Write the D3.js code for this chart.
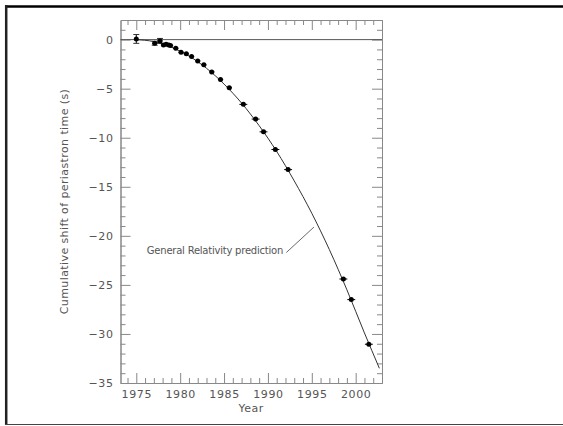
<!DOCTYPE html>
<html>
<head>
<meta charset="utf-8">
<script src="https://cdn.jsdelivr.net/npm/d3@7"></script>
<style>
  body { margin: 0; background: #fff; }
  text { font-family: "DejaVu Sans", sans-serif; fill: #555; }
</style>
</head>
<body>
<svg id="chart" width="563" height="426"></svg>
<script>
// measured points (year, cumulative shift in s)
let years  = [1975.0, 1977.1, 1977.7, 1978.1, 1978.4, 1978.7, 1978.9, 1979.5, 1980.1, 1980.7, 1981.3, 1982.0,
              1982.7, 1983.6, 1984.6, 1985.6, 1987.2, 1988.6, 1989.5, 1990.85, 1992.3, 1998.6, 1999.5, 2001.5];
let shifts = [0.07, -0.37, -0.13, -0.54, -0.48, -0.54, -0.61, -0.88, -1.29, -1.45, -1.73, -2.17,
              -2.57, -3.29, -4.07, -4.91, -6.6, -8.1, -9.4, -11.2, -13.25, -24.4, -26.5, -31.05];
let yErr   = [0.45, 0.2, 0.25, 0.12, 0.1, 0.1, 0.1, 0.1, 0.1, 0.1, 0.1, 0.1,
              0.1, 0.1, 0.1, 0.1, 0.1, 0.1, 0.1, 0.1, 0.1, 0.1, 0.1, 0.1];
let xErr   = [0.1, 0.3, 0.3, 0.3, 0.3, 0.3, 0.3, 0.3, 0.3, 0.3, 0.3, 0.3,
              0.3, 0.3, 0.3, 0.3, 0.45, 0.45, 0.45, 0.45, 0.45, 0.45, 0.45, 0.45];

// GR prediction curve
let curveYears  = [1974.9, 1977, 1979, 1981, 1983, 1985, 1987, 1989, 1991, 1993, 1995, 1997, 1999, 2001, 2002.7];
let curveShifts = [0, -0.2, -0.77, -1.67, -2.92, -4.53, -6.47, -8.77, -11.4, -14.4, -17.7, -21.4, -25.5, -29.9, -33.5];

let yearTicks  = [1975, 1980, 1985, 1990, 1995, 2000];
let shiftTicks = [0, -5, -10, -15, -20, -25, -30, -35];

const svg = d3.select('#chart');
const pLeft = 120.5, pRight = 382, pTop = 20, pBottom = 383;

const x = d3.scaleLinear().domain([1973.2, 2003]).range([pLeft, pRight]);
const y = d3.scaleLinear().domain([-35, 2]).range([pBottom, pTop]);

// outer frame (only three sides visible)
svg.append('line').attr('x1', 5).attr('x2', 563).attr('y1', 6.5).attr('y2', 6.5)
    .attr('stroke', '#000').attr('stroke-width', 2.5);
svg.append('line').attr('x1', 6.2).attr('x2', 6.2).attr('y1', 5).attr('y2', 425)
    .attr('stroke', '#222').attr('stroke-width', 2.5);
svg.append('line').attr('x1', 5).attr('x2', 563).attr('y1', 424.5).attr('y2', 424.5)
    .attr('stroke', '#444').attr('stroke-width', 1.2);

let minorYears = d3.range(1974, 2004).filter(v => v % 5 != 0);
let minorShifts = d3.range(-34, 2).filter(v => v % 5 != 0);

function styleAxis(g) {
    g.selectAll('path, line').attr('stroke', '#888');
    g.selectAll('text').attr('fill', '#555').style('font-size', '11px')
        .style('letter-spacing', '0.6px').attr('font-family', null);
}

svg.append('g').attr('transform', `translate(0,${pBottom})`)
    .call(d3.axisBottom(x).tickValues(yearTicks).tickFormat(d3.format('d')).tickSizeInner(-10).tickSizeOuter(0).tickPadding(7))
    .call(styleAxis);
svg.append('g').attr('transform', `translate(0,${pBottom})`)
    .call(d3.axisBottom(x).tickValues(minorYears).tickFormat('').tickSizeInner(-5).tickSizeOuter(0))
    .call(styleAxis);
svg.append('g').attr('transform', `translate(0,${pTop})`)
    .call(d3.axisTop(x).tickValues(yearTicks).tickFormat('').tickSizeInner(-10).tickSizeOuter(0))
    .call(styleAxis);
svg.append('g').attr('transform', `translate(0,${pTop})`)
    .call(d3.axisTop(x).tickValues(minorYears).tickFormat('').tickSizeInner(-5).tickSizeOuter(0))
    .call(styleAxis);

svg.append('g').attr('transform', `translate(${pLeft},0)`)
    .call(d3.axisLeft(y).tickValues(shiftTicks).tickSizeInner(-10).tickSizeOuter(0).tickPadding(7))
    .call(styleAxis);
svg.append('g').attr('transform', `translate(${pLeft},0)`)
    .call(d3.axisLeft(y).tickValues(minorShifts).tickFormat('').tickSizeInner(-5).tickSizeOuter(0))
    .call(styleAxis);
svg.append('g').attr('transform', `translate(${pRight},0)`)
    .call(d3.axisRight(y).tickValues(shiftTicks).tickFormat('').tickSizeInner(-10).tickSizeOuter(0))
    .call(styleAxis);
svg.append('g').attr('transform', `translate(${pRight},0)`)
    .call(d3.axisRight(y).tickValues(minorShifts).tickFormat('').tickSizeInner(-5).tickSizeOuter(0))
    .call(styleAxis);

// zero line
svg.append('line').attr('x1', pLeft).attr('x2', pRight).attr('y1', y(0)).attr('y2', y(0))
    .attr('stroke', '#555').attr('stroke-width', 1);

// prediction curve
let curveData = curveYears.map((d, i) => [d, curveShifts[i]]);
svg.append('path').datum(curveData)
    .attr('d', d3.line().x(d => x(d[0])).y(d => y(d[1])).curve(d3.curveMonotoneX))
    .attr('fill', 'none').attr('stroke', '#333').attr('stroke-width', 1);

// data points with error bars
let pts = years.map((d, i) => ({ t: d, s: shifts[i], ey: yErr[i], ex: xErr[i] }));
let pg = svg.append('g');
pts.forEach(p => {
    pg.append('line').attr('x1', x(p.t - p.ex)).attr('x2', x(p.t + p.ex))
        .attr('y1', y(p.s)).attr('y2', y(p.s)).attr('stroke', '#000').attr('stroke-width', 1);
    if (p.ey > 0.15) {
        pg.append('line').attr('x1', x(p.t)).attr('x2', x(p.t))
            .attr('y1', y(p.s + p.ey)).attr('y2', y(p.s - p.ey)).attr('stroke', '#000');
        [p.s + p.ey, p.s - p.ey].forEach(v => {
            pg.append('line').attr('x1', x(p.t) - 3).attr('x2', x(p.t) + 3)
                .attr('y1', y(v)).attr('y2', y(v)).attr('stroke', '#333');
        });
    }
    pg.append('circle').attr('cx', x(p.t)).attr('cy', y(p.s)).attr('r', 2.5).attr('fill', '#000');
});

// annotation
let labelX = x(1976.2);
svg.append('text').attr('x', labelX).attr('y', y(-21.85))
    .style('font-size', '10px')
    .attr('textLength', x(1991.75) - labelX).attr('lengthAdjust', 'spacing')
    .text('General Relativity prediction');
svg.append('line').attr('x1', x(1992.1)).attr('y1', y(-21.7)).attr('x2', x(1995.25)).attr('y2', y(-19.1))
    .attr('stroke', '#444').attr('stroke-width', 0.8);

// axis titles
svg.append('text').attr('x', (pLeft + pRight) / 2).attr('y', 412)
    .attr('text-anchor', 'middle').style('font-size', '11px').style('letter-spacing', '0.5px')
    .text('Year');
svg.append('text').attr('transform', `translate(68,${(pTop + pBottom) / 2}) rotate(-90)`)
    .attr('text-anchor', 'middle').style('font-size', '11px').style('letter-spacing', '0.4px')
    .text('Cumulative shift of periastron time (s)');
</script>
</body>
</html>
